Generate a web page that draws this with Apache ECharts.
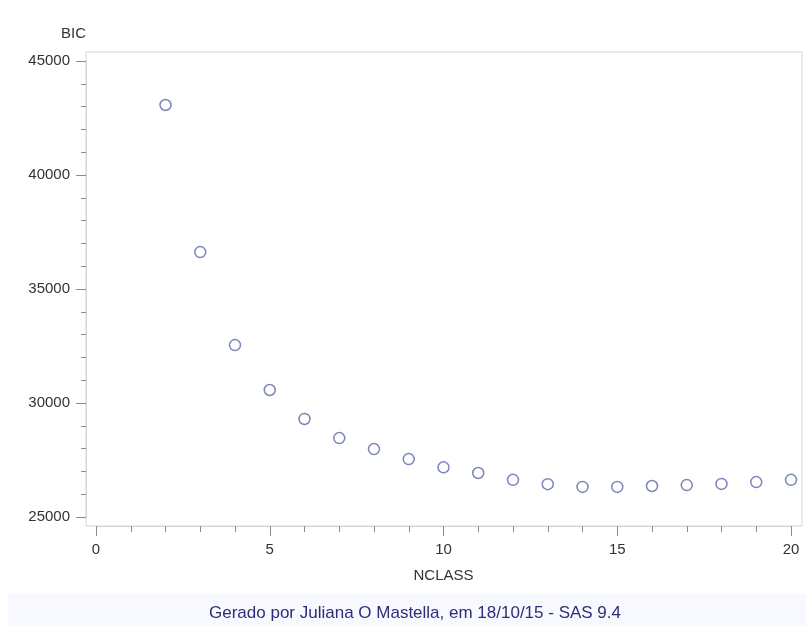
<!DOCTYPE html>
<html>
<head>
<meta charset="utf-8">
<script src="https://cdn.jsdelivr.net/npm/echarts@6/dist/echarts.min.js"></script>
<style>html,body{margin:0;padding:0;background:#fff}#c{width:806px;height:626px}</style>
</head>
<body>
<div id="c"></div>
<script>
var nclass = [2, 3, 4, 5, 6, 7, 8, 9, 10, 11, 12, 13, 14, 15, 16, 17, 18, 19, 20];
var bic = [43070, 36620, 32540, 30570, 29300, 28460, 27980, 27540, 27180, 26930, 26630, 26440, 26320, 26320, 26360, 26400, 26450, 26530, 26630];
var xTitle = 'NCLASS';
var yTitle = 'BIC';
var footer = 'Gerado por Juliana O Mastella, em 18/10/15 - SAS 9.4';

var points = nclass.map(function (n, i) { return [n, bic[i]]; });
var FONT = '"Liberation Sans", Arial, sans-serif';
var chart = echarts.init(document.getElementById('c'), null, { renderer: 'canvas' });
chart.setOption({
  animation: false,
  backgroundColor: '#ffffff',
  graphic: [
    { type: 'rect', left: 8, top: 594, shape: { width: 798, height: 32 }, style: { fill: '#f7f9fe' }, z: 0 },
    { type: 'text', x: 415, y: 613, style: { text: footer, fill: '#2e2e78', font: '17px ' + FONT, textAlign: 'center', textVerticalAlign: 'middle' }, z: 1 }
  ],
  grid: [
    { left: 96, right: 15, top: 61, bottom: 109, show: false },
    { left: 86, right: 4, top: 52, bottom: 100, show: true, borderColor: '#d4d4d4', borderWidth: 1, backgroundColor: 'transparent' }
  ],
  xAxis: [
    {
      gridIndex: 0, type: 'value', min: 0, max: 20, interval: 5, offset: 9,
      name: xTitle, nameLocation: 'middle', nameGap: 42,
      nameTextStyle: { color: '#333333', fontSize: 15, fontFamily: FONT },
      axisLine: { show: true, onZero: false, lineStyle: { color: '#d4d4d4', width: 1 } },
      axisTick: { show: true, length: 10, lineStyle: { color: '#8a8a8a' } },
      minorTick: { show: true, splitNumber: 5, length: 6, lineStyle: { color: '#8a8a8a' } },
      axisLabel: { color: '#333333', fontSize: 15, fontFamily: FONT, margin: 16, formatter: function (v) { return String(v); } },
      splitLine: { show: false }
    },
    { gridIndex: 1, type: 'value', min: 0, max: 1, show: false }
  ],
  yAxis: [
    {
      gridIndex: 0, type: 'value', min: 25000, max: 45000, interval: 5000, offset: 10,
      name: yTitle, nameLocation: 'end', nameGap: 20,
      nameTextStyle: { color: '#333333', fontSize: 15, fontFamily: FONT, align: 'right' },
      axisLine: { show: true, onZero: false, lineStyle: { color: '#d4d4d4', width: 1 } },
      axisTick: { show: true, length: 10, lineStyle: { color: '#8a8a8a' } },
      minorTick: { show: true, splitNumber: 5, length: 5, lineStyle: { color: '#8a8a8a' } },
      axisLabel: { color: '#333333', fontSize: 15, fontFamily: FONT, margin: 16, formatter: function (v) { return String(v); } },
      splitLine: { show: false }
    },
    { gridIndex: 1, type: 'value', min: 0, max: 1, show: false }
  ],
  series: [{
    type: 'scatter',
    xAxisIndex: 0, yAxisIndex: 0,
    data: points,
    symbol: 'circle',
    symbolSize: 11,
    itemStyle: { color: '#ffffff', borderColor: '#5a68a8', borderWidth: 1.5 },
    emphasis: { disabled: true }
  }]
});
</script>
</body>
</html>
